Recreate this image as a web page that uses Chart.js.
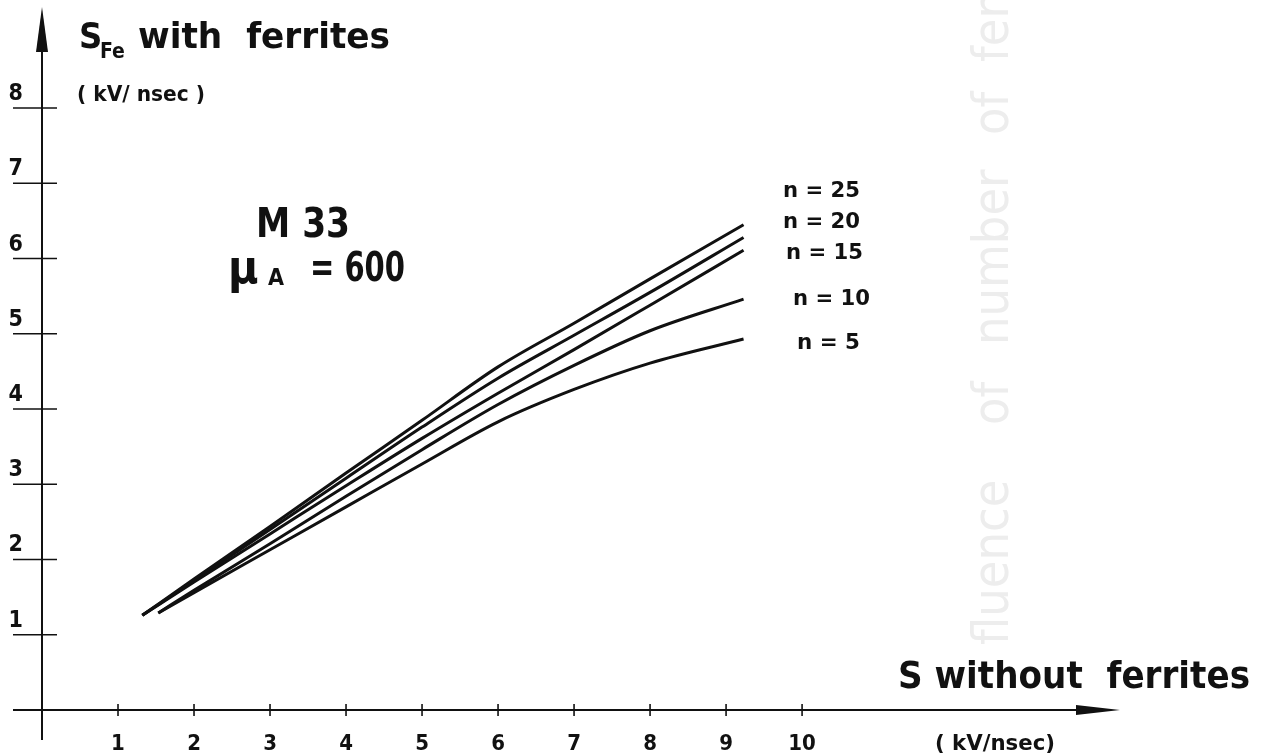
<!DOCTYPE html>
<html>
<head>
<meta charset="utf-8">
<script src="https://cdn.jsdelivr.net/npm/chart.js@4/dist/chart.umd.min.js"></script>
<style>
  html, body { margin: 0; padding: 0; background: #ffffff; }
  #wrap { width: 1268px; height: 754px; position: relative; }
  canvas { display: block; }
</style>
</head>
<body>
<div id="wrap"><canvas id="c" width="1268" height="754"></canvas></div>
<script>
// ---- data ----
const xTicks = [1, 2, 3, 4, 5, 6, 7, 8, 9, 10];
const yTicks = [1, 2, 3, 4, 5, 6, 7, 8];
const seriesLabels = ['n = 25', 'n = 20', 'n = 15', 'n = 10', 'n = 5'];

const sUpper = [1.32, 2, 3, 4, 5, 6, 7, 8, 9.23];
const sLower = [1.53, 2, 3, 4, 5, 6, 7, 8, 9.23];

const sFe25 = [1.26, 1.74, 2.44, 3.15, 3.85, 4.56, 5.14, 5.73, 6.45];
const sFe20 = [1.26, 1.72, 2.40, 3.08, 3.76, 4.41, 4.98, 5.55, 6.28];
const sFe15 = [1.26, 1.70, 2.34, 2.98, 3.61, 4.21, 4.79, 5.38, 6.11];
const sFe10 = [1.29, 1.59, 2.21, 2.84, 3.46, 4.06, 4.58, 5.04, 5.46];
const sFe5  = [1.29, 1.56, 2.13, 2.70, 3.27, 3.83, 4.26, 4.61, 4.93];

const seriesX = [sUpper, sUpper, sUpper, sLower, sLower];
const seriesY = [sFe25, sFe20, sFe15, sFe10, sFe5];

const FONT = '"DejaVu Sans Condensed", "Liberation Sans Narrow", "DejaVu Sans", sans-serif';
const INK = '#111111';

function pts(xs, ys) { return xs.map((x, i) => ({ x: x, y: ys[i] })); }

const datasets = seriesLabels.map((lab, i) => ({
  label: lab,
  data: pts(seriesX[i], seriesY[i]),
  showLine: true,
  borderColor: INK,
  borderWidth: 3,
  pointRadius: 0,
  cubicInterpolationMode: 'monotone',
  fill: false
}));

function fitText(ctx, text, x, y, w) {
  const m = ctx.measureText(text).width;
  ctx.save();
  ctx.translate(x, y);
  ctx.scale(w / m, 1);
  ctx.fillText(text, 0, 0);
  ctx.restore();
}

const drawing = {
  id: 'drawing',
  beforeDatasetsDraw(chart) {
    const ctx = chart.ctx;
    const xs = chart.scales.x, ys = chart.scales.y;
    const x0 = xs.getPixelForValue(0), y0 = ys.getPixelForValue(0);
    ctx.save();
    // faint show-through text of the page's reverse side
    ctx.save();
    ctx.translate(1008, 0);
    ctx.rotate(-Math.PI / 2);
    ctx.fillStyle = '#ededed';
    ctx.font = '50px ' + FONT;
    ctx.textBaseline = 'alphabetic';
    [['fluence', 645], ['of', 425], ['number', 345], ['of', 135], ['fer', 62]].forEach(w => {
      ctx.fillText(w[0], -w[1], 0);
    });
    ctx.restore();

    ctx.strokeStyle = INK;
    ctx.fillStyle = INK;
    ctx.lineWidth = 2;
    // y axis
    ctx.beginPath();
    ctx.moveTo(x0, 740);
    ctx.lineTo(x0, 40);
    ctx.stroke();
    ctx.beginPath();
    ctx.moveTo(x0, 7);
    ctx.lineTo(x0 - 6, 52);
    ctx.lineTo(x0 + 6, 52);
    ctx.closePath();
    ctx.fill();
    // x axis
    ctx.beginPath();
    ctx.moveTo(13, y0);
    ctx.lineTo(1085, y0);
    ctx.stroke();
    ctx.beginPath();
    ctx.moveTo(1120, y0);
    ctx.lineTo(1076, y0 - 5);
    ctx.lineTo(1076, y0 + 5);
    ctx.closePath();
    ctx.fill();
    // tick marks
    ctx.lineWidth = 1.6;
    yTicks.forEach(v => {
      const py = ys.getPixelForValue(v);
      ctx.beginPath(); ctx.moveTo(13, py); ctx.lineTo(57, py); ctx.stroke();
    });
    xTicks.forEach(v => {
      const px = xs.getPixelForValue(v);
      ctx.beginPath(); ctx.moveTo(px, y0 - 6); ctx.lineTo(px, y0 + 6); ctx.stroke();
    });

    // texts
    ctx.textBaseline = 'alphabetic';
    ctx.textAlign = 'left';
    ctx.font = 'bold 36px ' + FONT;
    ctx.fillText('S', 79, 48);
    ctx.font = 'bold 21px ' + FONT;
    ctx.fillText('Fe', 100, 58);
    ctx.font = 'bold 36px ' + FONT;
    fitText(ctx, 'with  ferrites', 138, 48, 252);
    ctx.font = 'bold 21px ' + FONT;
    fitText(ctx, '( kV/ nsec )', 77, 101, 128);

    ctx.font = 'bold 40px ' + FONT;
    fitText(ctx, 'M 33', 256, 237, 94);
    ctx.font = 'bold 46px ' + FONT;
    ctx.fillText('\u03bc', 228, 283);
    ctx.font = 'bold 23px ' + FONT;
    ctx.fillText('A', 268, 285);
    ctx.font = 'bold 40px ' + FONT;
    fitText(ctx, '= 600', 310, 281, 95);

    ctx.font = 'bold 22px ' + FONT;
    const nPos = [[783, 197], [783, 228], [786, 259], [793, 305], [797, 349]];
    seriesLabels.forEach((lab, i) => fitText(ctx, lab, nPos[i][0], nPos[i][1], lab.length > 5 ? 77 : 63));

    ctx.font = 'bold 38px ' + FONT;
    fitText(ctx, 'S without  ferrites', 898, 688, 352);
    ctx.font = 'bold 22px ' + FONT;
    fitText(ctx, '( kV/nsec)', 935, 750, 120);
    ctx.restore();
  }
};

new Chart(document.getElementById('c'), {
  type: 'scatter',
  data: { datasets: datasets },
  options: {
    responsive: false,
    animation: false,
    events: [],
    layout: { padding: 0 },
    plugins: { legend: { display: false }, tooltip: { enabled: false }, title: { display: false } },
    scales: {
      x: {
        type: 'linear',
        min: 0,
        max: 16.13,
        afterBuildTicks: s => { s.ticks = xTicks.map(v => ({ value: v })); },
        afterFit: s => { s.height = 44; },
        grid: { display: false, drawTicks: false },
        border: { display: false },
        ticks: { color: INK, font: { family: FONT, size: 22, weight: 'bold' }, padding: 21, maxRotation: 0, autoSkip: false }
      },
      y: {
        type: 'linear',
        min: 0,
        max: 9.0,
        afterBuildTicks: s => { s.ticks = yTicks.map(v => ({ value: v })); },
        afterFit: s => { s.width = 42; },
        grid: { display: false, drawTicks: false },
        border: { display: false },
        ticks: { color: INK, font: { family: FONT, size: 23, weight: 'bold' }, padding: 19, labelOffset: -14, autoSkip: false }
      }
    }
  },
  plugins: [drawing]
});
</script>
</body>
</html>
